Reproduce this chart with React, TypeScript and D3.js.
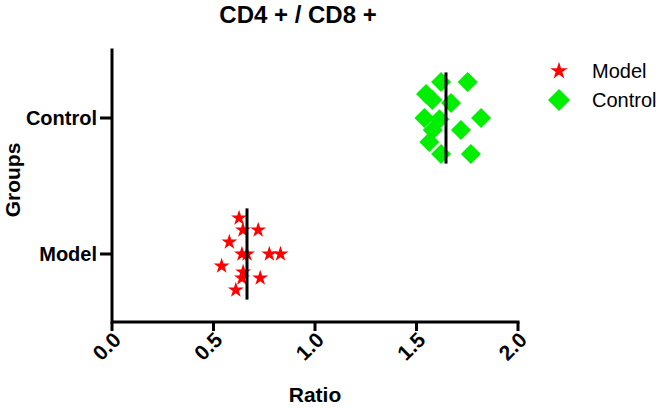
import React from "react";
import * as d3 from "d3";

// groups on the y axis, top to bottom
const groups = ["Control", "Model"];

// CD4+/CD8+ ratio per animal
const modelRatio = [0.626, 0.645, 0.72, 0.578, 0.64, 0.665, 0.775, 0.83, 0.54, 0.646, 0.64, 0.73, 0.61];
const controlRatio = [1.621, 1.752, 1.547, 1.578, 1.67, 1.539, 1.613, 1.818, 1.58, 1.719, 1.563, 1.621, 1.768];

// scatter spread inside each group (-3..3)
const modelJitter = [-3, -2, -2, -1, 0, 0, 0, 0, 1, 1.5, 2, 2, 3];
const controlJitter = [-3, -3, -2, -1.5, -1.25, 0, 0.1, 0, 1, 1, 2, 3, 3];

const xTicks = [0, 0.5, 1, 1.5, 2];

const W = 661;
const H = 408;
const font = "'Liberation Sans', Arial, Helvetica, sans-serif";

const x = d3.scaleLinear().domain([0, 2]).range([112, 518]);
const y = d3.scalePoint<string>().domain(groups).range([50, 322]).padding(0.5);
const jit = d3.scaleLinear().domain([-3, 3]).range([-36, 36]);

const starPath = d3.symbol().type(d3.symbolStar).size(78)() as string;
const diamondPath = d3.symbol().type(d3.symbolSquare).size(200)() as string;

const series = [
  { name: "Model", values: modelRatio, jitter: modelJitter, color: "#ff0000", path: starPath, rot: 0 },
  { name: "Control", values: controlRatio, jitter: controlJitter, color: "#00ee00", path: diamondPath, rot: 45 },
];

export default function App() {
  return (
    <svg
      width={W}
      height={H}
      style={{ position: "absolute", left: 0, top: 0, background: "#fff" }}
      fontFamily={font}
    >
      <text x={298} y={23} textAnchor="middle" fontSize={24} fontWeight="bold">
        CD4 + / CD8 +
      </text>

      {/* points */}
      {series.map(s => (
        <g key={s.name} fill={s.color}>
          {s.values.map((v, i) => (
            <path
              key={i}
              d={s.path}
              transform={`translate(${x(v)},${(y(s.name) as number) + jit(s.jitter[i])}) rotate(${s.rot})`}
            />
          ))}
        </g>
      ))}

      {/* mean lines */}
      {series.map(s => {
        const m = d3.mean(s.values) as number;
        const cy = y(s.name) as number;
        return (
          <line
            key={s.name}
            x1={x(m)}
            x2={x(m)}
            y1={cy + jit(-3.8)}
            y2={cy + jit(3.8)}
            stroke="#000"
            strokeWidth={3}
          />
        );
      })}

      {/* axes */}
      <g stroke="#000" strokeWidth={3} fill="none">
        <path d={`M${x(0)},${y.range()[0]}V${y.range()[1]}H${x(2)}`} strokeLinecap="square" />
        {xTicks.map(t => (
          <line key={t} x1={x(t)} x2={x(t)} y1={y.range()[1]} y2={y.range()[1] + 9} />
        ))}
        {groups.map(g => (
          <line key={g} x1={x(0) - 12} x2={x(0)} y1={y(g)} y2={y(g)} />
        ))}
      </g>

      {xTicks.map(t => (
        <text
          key={t}
          transform={`translate(${x(t) + 5},${y.range()[1] + 14}) rotate(-45)`}
          textAnchor="end"
          dy="0.35em"
          fontSize={21}
          fontWeight="bold"
        >
          {d3.format(".1f")(t)}
        </text>
      ))}

      {groups.map(g => (
        <text key={g} x={x(0) - 15} y={y(g)} dy="0.35em" textAnchor="end" fontSize={20} fontWeight="bold">
          {g}
        </text>
      ))}

      <text x={315} y={402} textAnchor="middle" fontSize={21} fontWeight="bold">
        Ratio
      </text>
      <text transform="translate(20,180) rotate(-90)" textAnchor="middle" fontSize={21} fontWeight="bold">
        Groups
      </text>

      {/* legend */}
      {series.map((s, i) => (
        <g key={s.name} transform={`translate(559,${71 + i * 29})`}>
          <path d={s.path} fill={s.color} transform={`rotate(${s.rot}) scale(1.1)`} />
          <text x={33} dy="0.36em" fontSize={20}>
            {s.name}
          </text>
        </g>
      ))}
    </svg>
  );
}
